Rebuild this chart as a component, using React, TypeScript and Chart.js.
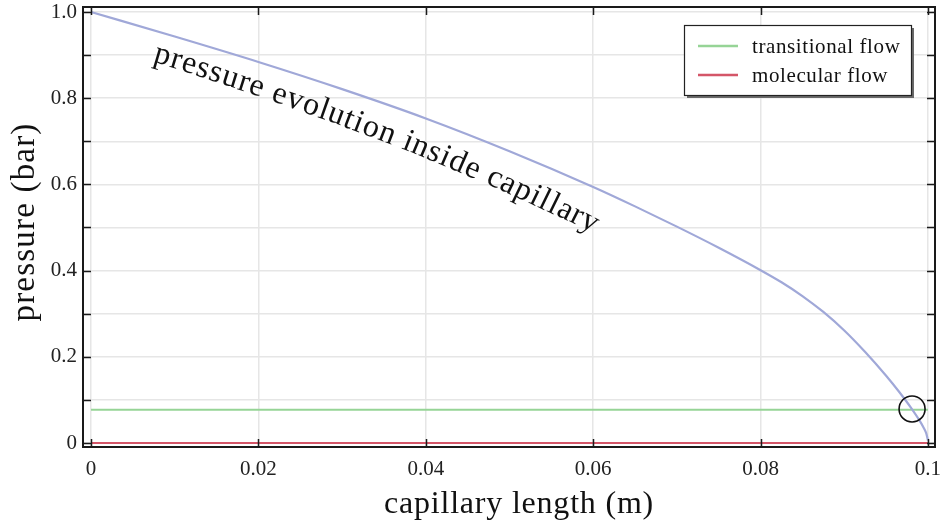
import React, { useEffect, useRef } from 'react';
import { Chart, registerables } from 'chart.js';

Chart.register(...registerables);

// ---- data ----
const LENGTH_M = [0, 0.01, 0.02, 0.03, 0.04, 0.05, 0.06, 0.065, 0.07, 0.075, 0.08, 0.0825, 0.085, 0.0875, 0.09, 0.0925, 0.095, 0.0965, 0.098, 0.099, 0.0995, 0.0998, 0.1];
const PRESSURE_BAR = [1.0, 0.943, 0.884, 0.821, 0.753, 0.677, 0.594, 0.549, 0.502, 0.453, 0.401, 0.373, 0.341, 0.304, 0.261, 0.211, 0.156, 0.12, 0.081, 0.052, 0.035, 0.022, 0.006];

const TRANSITIONAL_X = [0, 0.1];
const TRANSITIONAL_P = [0.077, 0.077];
const MOLECULAR_X = [0, 0.1];
const MOLECULAR_P = [0, 0];

const MARKER_X = [0.0981];
const MARKER_P = [0.079];

const X_TICKS = [0, 0.02, 0.04, 0.06, 0.08, 0.1];
const X_TICK_LABELS = ['0', '0.02', '0.04', '0.06', '0.08', '0.1'];
const Y_TICKS = [0, 0.1, 0.2, 0.3, 0.4, 0.5, 0.6, 0.7, 0.8, 0.9, 1.0];
const Y_TICK_LABELS = ['0', '', '0.2', '', '0.4', '', '0.6', '', '0.8', '', '1.0'];

const X_TITLE = 'capillary length (m)';
const Y_TITLE = 'pressure (bar)';
const CURVE_LABEL = 'pressure evolution inside capillary';
const LEGEND_LABELS = ['transitional flow', 'molecular flow'];

const X_MIN = -0.00096;
const X_MAX = 0.10084;
const Y_MIN = -0.0093;
const Y_MAX = 1.0116;

const FONT = '"Liberation Serif", "Times New Roman", serif';
const BLUE = 'rgb(160,168,216)';
const GREEN = 'rgb(150,212,150)';
const RED = 'rgb(212,86,104)';

const pts = (xs: number[], ys: number[]) => xs.map((x, i) => ({ x, y: ys[i] }));

const decorPlugin = {
  id: 'decor',
  afterDatasetsDraw(chart: any) {
    const ctx: CanvasRenderingContext2D = chart.ctx;
    const { left, right, top, bottom } = chart.chartArea;
    const xs = chart.scales.x;
    const ys = chart.scales.y;
    ctx.save();

    // marker circle around the intersection
    ctx.strokeStyle = '#111';
    ctx.lineWidth = 1.6;
    MARKER_X.forEach((mx, i) => {
      ctx.beginPath();
      ctx.arc(xs.getPixelForValue(mx), ys.getPixelForValue(MARKER_P[i]), 13, 0, Math.PI * 2);
      ctx.stroke();
    });

    // frame
    ctx.strokeStyle = '#1a1a1a';
    ctx.lineWidth = 2;
    ctx.strokeRect(left, top, right - left, bottom - top);

    // inward tick marks
    ctx.lineWidth = 1.5;
    ctx.beginPath();
    const tl = 8;
    Y_TICKS.forEach((v) => {
      const y = Math.round(ys.getPixelForValue(v)) + 0.5;
      ctx.moveTo(left, y); ctx.lineTo(left + tl, y);
      ctx.moveTo(right, y); ctx.lineTo(right - tl, y);
    });
    X_TICKS.forEach((v) => {
      const x = Math.round(xs.getPixelForValue(v)) + 0.5;
      ctx.moveTo(x, bottom); ctx.lineTo(x, bottom - tl);
      ctx.moveTo(x, top); ctx.lineTo(x, top + tl);
    });
    ctx.stroke();

    // axis titles
    ctx.fillStyle = '#111';
    (ctx as any).letterSpacing = '0.8px';
    ctx.font = `32px ${FONT}`;
    ctx.textAlign = 'center';
    ctx.textBaseline = 'alphabetic';
    ctx.fillText(X_TITLE, 519, 513);
    ctx.save();
    (ctx as any).letterSpacing = '1.2px';
    ctx.font = `33px ${FONT}`;
    ctx.translate(34, 222);
    ctx.rotate(-Math.PI / 2);
    ctx.fillText(Y_TITLE, 0, 0);
    ctx.restore();
    (ctx as any).letterSpacing = '0px';

    // legend box
    const bx = 684, by = 25, bw = 227, bh = 70;
    ctx.fillStyle = '#6a6a6a';
    ctx.fillRect(bx + 3, by + 3, bw, bh);
    ctx.fillStyle = '#fff';
    ctx.fillRect(bx, by, bw, bh);
    ctx.strokeStyle = '#222';
    ctx.lineWidth = 1.2;
    ctx.strokeRect(bx + 0.5, by + 0.5, bw, bh);
    const legendRows = [46, 75];
    ctx.font = `21px ${FONT}`;
    (ctx as any).letterSpacing = '0.6px';
    ctx.textAlign = 'left';
    ctx.textBaseline = 'middle';
    LEGEND_LABELS.forEach((lab, i) => {
      const ds = chart.data.datasets.find((d: any) => d.label === lab);
      const y = legendRows[i];
      ctx.strokeStyle = ds ? ds.borderColor : '#000';
      ctx.lineWidth = 2.5;
      ctx.beginPath();
      ctx.moveTo(698, y); ctx.lineTo(738, y);
      ctx.stroke();
      ctx.fillStyle = '#111';
      ctx.fillText(lab, 752, y + 1);
    });
    (ctx as any).letterSpacing = '0px';

    // curved label along the pressure curve
    const meta = chart.getDatasetMeta(0);
    const P = meta.data.map((p: any) => ({ x: p.x, y: p.y }));
    const cum = [0];
    for (let i = 1; i < P.length; i++) {
      cum.push(cum[i - 1] + Math.hypot(P[i].x - P[i - 1].x, P[i].y - P[i - 1].y));
    }
    const at = (s: number) => {
      if (s <= 0) return P[0];
      for (let i = 1; i < P.length; i++) {
        if (cum[i] >= s) {
          const t = (s - cum[i - 1]) / (cum[i] - cum[i - 1]);
          return { x: P[i - 1].x + t * (P[i].x - P[i - 1].x), y: P[i - 1].y + t * (P[i].y - P[i - 1].y) };
        }
      }
      return P[P.length - 1];
    };
    const angAt = (s: number) => {
      const a = at(s - 14), b = at(s + 14);
      return Math.atan2(b.y - a.y, b.x - a.x);
    };
    ctx.font = `32px ${FONT}`;
    ctx.fillStyle = '#111';
    ctx.textAlign = 'left';
    ctx.textBaseline = 'alphabetic';
    const spacing = 1.2;
    const chars = CURVE_LABEL.split('');
    const widths = chars.map((c) => ctx.measureText(c).width);
    const total = widths.reduce((a, b) => a + b + spacing, 0);
    const S0 = 73, D0 = 30, D1 = 42;
    let s = S0;
    chars.forEach((c, i) => {
      const w = widths[i];
      const mid = s + w / 2;
      const p = at(mid);
      const frac = (s - S0) / total;
      const th = angAt(mid) + 0.06 * frac;
      const d = D0 + (D1 - D0) * frac;
      const px = p.x - d * Math.sin(th);
      const py = p.y + d * Math.cos(th);
      ctx.save();
      ctx.translate(px, py);
      ctx.rotate(th);
      ctx.fillText(c, -w / 2, 0);
      ctx.restore();
      s += w + spacing;
    });

    ctx.restore();
  },
};

export default function App() {
  const ref = useRef<HTMLCanvasElement | null>(null);
  useEffect(() => {
    if (!ref.current) return;
    const noPad = (scale: any) => {
      scale.paddingTop = 0; scale.paddingBottom = 0; scale.paddingLeft = 0; scale.paddingRight = 0;
    };
    const chart = new Chart(ref.current, {
      type: 'line',
      data: {
        datasets: [
          {
            label: 'pressure',
            data: pts(LENGTH_M, PRESSURE_BAR),
            borderColor: BLUE,
            borderWidth: 2.2,
            pointRadius: 0,
            cubicInterpolationMode: 'monotone',
            fill: false,
          },
          {
            label: LEGEND_LABELS[0],
            data: pts(TRANSITIONAL_X, TRANSITIONAL_P),
            borderColor: GREEN,
            borderWidth: 2,
            pointRadius: 0,
          },
          {
            label: LEGEND_LABELS[1],
            data: pts(MOLECULAR_X, MOLECULAR_P),
            borderColor: RED,
            borderWidth: 2,
            pointRadius: 0,
          },
        ],
      } as any,
      options: {
        animation: false,
        responsive: false,
        devicePixelRatio: 1,
        layout: { padding: { top: 7, right: 10, left: 0, bottom: 0 } },
        plugins: { legend: { display: false }, tooltip: { enabled: false }, title: { display: false } },
        scales: {
          x: {
            type: 'linear',
            min: X_MIN,
            max: X_MAX,
            afterBuildTicks: (scale: any) => { scale.ticks = X_TICKS.map((v) => ({ value: v })); },
            afterFit: (scale: any) => { scale.height = 77; noPad(scale); },
            ticks: {
              autoSkip: false,
              maxRotation: 0,
              padding: 10,
              color: '#222',
              font: { family: FONT, size: 21 },
              callback: (v: any) => { const i = X_TICKS.findIndex((t) => Math.abs(t - v) < 1e-9); return i >= 0 ? X_TICK_LABELS[i] : ''; },
            },
            grid: { color: '#e6e6e6', lineWidth: 1.5, drawTicks: false },
            border: { display: false },
          },
          y: {
            type: 'linear',
            min: Y_MIN,
            max: Y_MAX,
            afterBuildTicks: (scale: any) => { scale.ticks = Y_TICKS.map((v) => ({ value: v })); },
            afterFit: (scale: any) => { scale.width = 83; noPad(scale); },
            ticks: {
              autoSkip: false,
              padding: 6,
              color: '#222',
              font: { family: FONT, size: 21 },
              callback: (v: any) => { const i = Y_TICKS.findIndex((t) => Math.abs(t - v) < 1e-9); return i >= 0 ? Y_TICK_LABELS[i] : ''; },
            },
            grid: { color: '#e6e6e6', lineWidth: 1.5, drawTicks: false },
            border: { display: false },
          },
        },
      } as any,
      plugins: [decorPlugin],
    });
    return () => chart.destroy();
  }, []);
  return (
    <div style={{ position: 'absolute', left: 0, top: 0, width: 945, height: 524, background: '#fff' }}>
      <canvas ref={ref} width={945} height={524} style={{ display: 'block' }} />
    </div>
  );
}
